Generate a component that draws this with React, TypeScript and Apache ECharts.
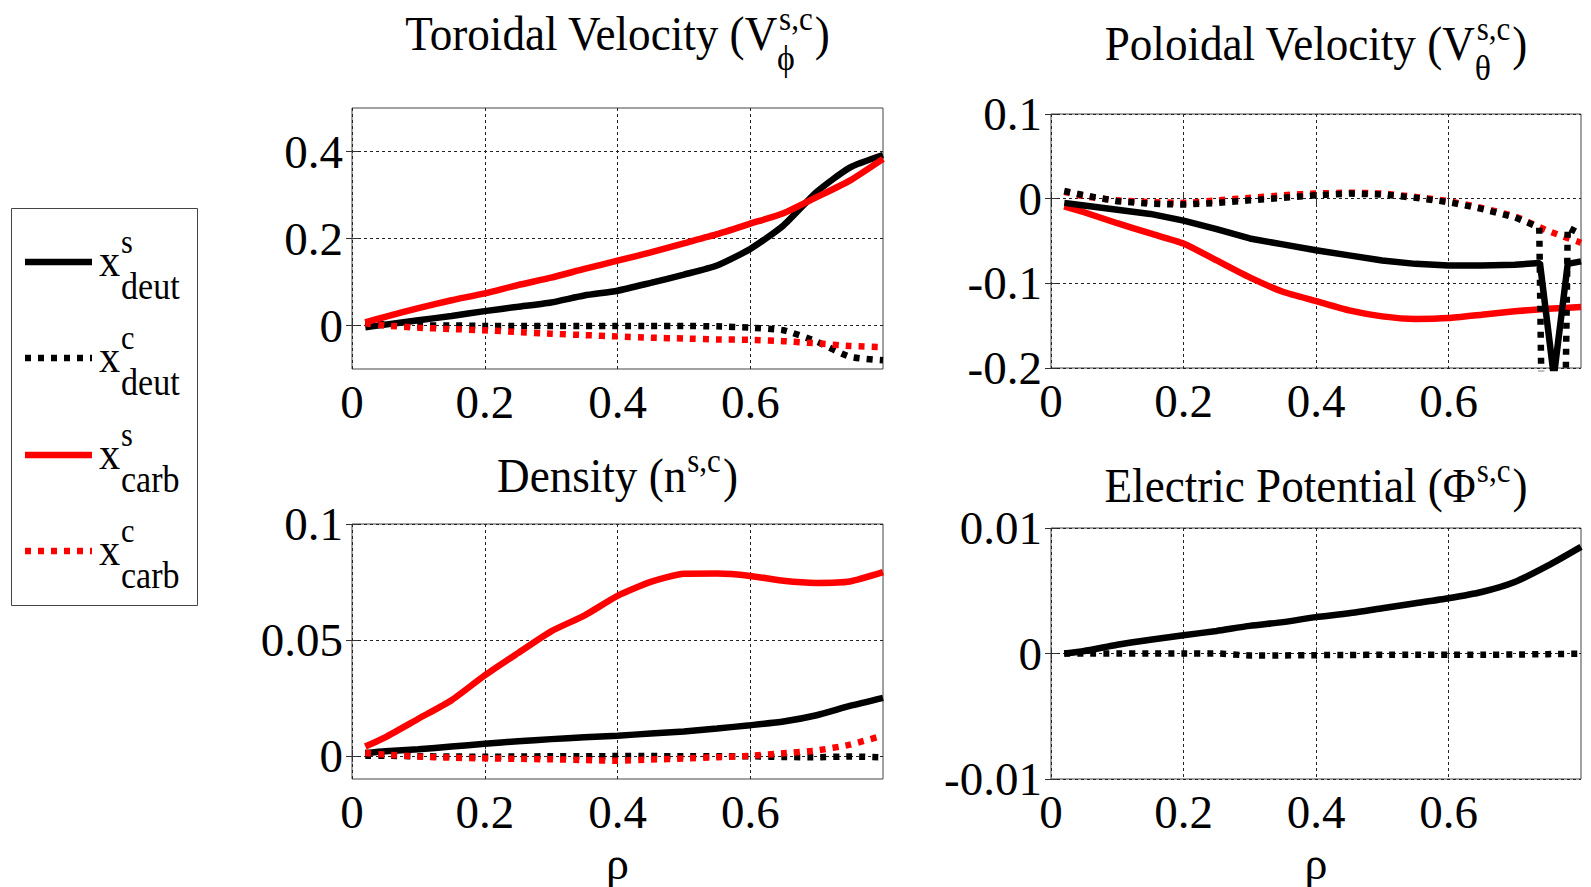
import React, { useEffect, useRef } from 'react';
import * as echarts from 'echarts';

const FONT = '"Liberation Serif", "Times New Roman", serif';

// Normalised radius samples shared by most profiles
const rho = [0.02, 0.05, 0.1, 0.15, 0.2, 0.25, 0.3, 0.35, 0.4, 0.45, 0.5, 0.55, 0.6, 0.65, 0.7, 0.75, 0.8];

// Toroidal velocity
const torDeutS = [-0.004, 0.002, 0.012, 0.022, 0.033, 0.043, 0.053, 0.069, 0.08, 0.098, 0.117, 0.138, 0.176, 0.23, 0.307, 0.363, 0.392];
const torDeutC = [0.006, 0.002, 0.0, 0.0, -0.001, -0.001, -0.001, -0.001, -0.001, -0.001, -0.001, -0.002, -0.005, -0.011, -0.037, -0.072, -0.08];
const torCarbS = [0.007, 0.02, 0.04, 0.058, 0.074, 0.093, 0.11, 0.13, 0.149, 0.168, 0.189, 0.21, 0.234, 0.258, 0.295, 0.333, 0.383];
const torCarbC = [0.005, 0.0, -0.005, -0.008, -0.011, -0.015, -0.019, -0.022, -0.025, -0.028, -0.03, -0.032, -0.033, -0.036, -0.041, -0.047, -0.05];

// Poloidal velocity (deuterium profiles carry a sharp dip near the edge)
const polRhoDeutS = [0.02, 0.05, 0.1, 0.15, 0.2, 0.25, 0.3, 0.35, 0.4, 0.45, 0.5, 0.55, 0.6, 0.65, 0.7, 0.738, 0.759, 0.78, 0.8];
const polDeutS = [-0.005, -0.008, -0.013, -0.018, -0.026, -0.036, -0.047, -0.054, -0.061, -0.067, -0.073, -0.077, -0.079, -0.079, -0.078, -0.076, -0.21, -0.077, -0.074];
const polRhoDeutC = [0.02, 0.05, 0.1, 0.15, 0.2, 0.25, 0.3, 0.35, 0.4, 0.45, 0.5, 0.55, 0.6, 0.65, 0.7, 0.737, 0.74, 0.777, 0.78, 0.8];
const polDeutC = [0.009, 0.004, -0.003, -0.006, -0.007, -0.005, -0.002, 0.001, 0.004, 0.006, 0.005, 0.001, -0.004, -0.012, -0.022, -0.034, -0.21, -0.21, -0.034, -0.042];
const polCarbS = [-0.009, -0.016, -0.029, -0.041, -0.053, -0.073, -0.093, -0.11, -0.121, -0.132, -0.139, -0.142, -0.141, -0.137, -0.133, -0.13, -0.128];
const polCarbC = [0.008, 0.003, -0.002, -0.004, -0.005, -0.002, 0.001, 0.004, 0.006, 0.007, 0.006, 0.002, -0.003, -0.011, -0.021, -0.038, -0.052];

// Density
const denDeutS = [0.0012, 0.002, 0.0028, 0.004, 0.0052, 0.0063, 0.0072, 0.008, 0.0087, 0.0096, 0.0105, 0.0118, 0.0132, 0.0148, 0.0175, 0.0215, 0.025];
const denDeutC = [0, 0, -0.0002, -0.0003, -0.0004, -0.0003, -0.0002, -0.0002, -0.0001, -0.0001, -0.0002, -0.0002, -0.0002, -0.0005, -0.0006, -0.0003, -0.0007];
const denCarbS = [0.004, 0.008, 0.016, 0.024, 0.0347, 0.0443, 0.0537, 0.0605, 0.069, 0.075, 0.0785, 0.0786, 0.0776, 0.0755, 0.0746, 0.0752, 0.0792];
const denCarbC = [0.0012, 0.0005, -0.0003, -0.0008, -0.0011, -0.0013, -0.0015, -0.0018, -0.0021, -0.0016, -0.0012, -0.0006, 0.0, 0.0011, 0.0023, 0.0048, 0.0088];

// Electric potential
const potDeutS = [0, 0.0002, 0.0007, 0.0011, 0.00145, 0.0018, 0.0022, 0.0025, 0.0029, 0.0032, 0.0036, 0.004, 0.0044, 0.0049, 0.0057, 0.007, 0.0085];
const potDeutC = [0, 0, 0, 0, 0, 0, -0.00015, -0.00015, -0.00013, -0.00012, -0.0001, -0.0001, -0.0001, -0.0001, -0.00008, -0.00005, -0.00002];

// Tick values
const xTicks = [0, 0.2, 0.4, 0.6];
const yTicksTor = [0, 0.2, 0.4];
const yTicksPol = [-0.2, -0.1, 0, 0.1];
const yTicksDen = [0, 0.05, 0.1];
const yTicksPot = [-0.01, 0, 0.01];

const yRanges: [number, number][] = [[-0.1, 0.5], [-0.2, 0.1], [-0.01, 0.1], [-0.01, 0.01]];
const yTickSets = [yTicksTor, yTicksPol, yTicksDen, yTicksPot];

const grids = [
  { left: 352, top: 108, width: 531, height: 261 },
  { left: 1051, top: 114, width: 530, height: 254 },
  { left: 352, top: 524, width: 531, height: 258 },
  { left: 1051, top: 528, width: 530, height: 254 },
];

const pairs = (xs: number[], ys: number[]) => xs.map((x, i) => [x, ys[i]]);

const solid = (color: string) => ({ color, width: 6.5, type: 'solid' as const });
const dotted = (color: string) => ({ color, width: 6.5, type: [6, 7], cap: 'butt' as const });

type Line = { name: string; data: number[][]; style: any; smooth?: number | boolean };

const panels: Line[][] = [
  [
    { name: 'deut s', data: pairs(rho, torDeutS), style: solid('#000') },
    { name: 'deut c', data: pairs(rho, torDeutC), style: dotted('#000') },
    { name: 'carb s', data: pairs(rho, torCarbS), style: solid('#ff0000') },
    { name: 'carb c', data: pairs(rho, torCarbC), style: dotted('#ff0000') },
  ],
  [
    { name: 'carb s', data: pairs(rho, polCarbS), style: solid('#ff0000') },
    { name: 'carb c', data: pairs(rho, polCarbC), style: dotted('#ff0000') },
    { name: 'deut s', data: pairs(polRhoDeutS, polDeutS), style: solid('#000'), smooth: false },
    { name: 'deut c', data: pairs(polRhoDeutC, polDeutC), style: dotted('#000'), smooth: false },
  ],
  [
    { name: 'deut s', data: pairs(rho, denDeutS), style: solid('#000') },
    { name: 'deut c', data: pairs(rho, denDeutC), style: dotted('#000') },
    { name: 'carb s', data: pairs(rho, denCarbS), style: solid('#ff0000') },
    { name: 'carb c', data: pairs(rho, denCarbC), style: dotted('#ff0000') },
  ],
  [
    { name: 'deut s', data: pairs(rho, potDeutS), style: solid('#000') },
    { name: 'deut c', data: pairs(rho, potDeutC), style: dotted('#000') },
  ],
];

function textWidth(t: string, size: number) {
  const ctx = document.createElement('canvas').getContext('2d');
  if (!ctx) return t.length * size * 0.5;
  ctx.font = `${size}px "Liberation Serif"`;
  return ctx.measureText(t).width;
}

// Text placed by its alphabetic baseline (zrender centres the em box on y)
function txt(x: number, baseline: number, text: string, size: number, align = 'left', scaleX = 1) {
  return {
    type: 'text',
    x,
    y: baseline - 0.34 * size,
    scaleX,
    silent: true,
    style: { text, fontFamily: FONT, fontSize: size, fill: '#000', align, verticalAlign: 'middle' },
  };
}

const TITLE_SCALE = 0.94;

function titleParts(cx: number, base: number, main: string, sup: string, sub: string | null) {
  const mainSize = 48;
  const supSize = 33;
  const subSize = 36;
  const s = TITLE_SCALE;
  const wMain = textWidth(main, mainSize) * s;
  const wSup = textWidth(sup, supSize) * s;
  const wClose = textWidth(')', mainSize) * s;
  const supX = wMain + 1;
  const closeX = supX + wSup + 2;
  const x0 = cx - (closeX + wClose) / 2;
  const out: any[] = [
    txt(x0, base, main, mainSize, 'left', s),
    txt(x0 + supX, base - 20, sup, supSize, 'left', s),
    txt(x0 + closeX, base, ')', mainSize, 'left', s),
  ];
  if (sub) out.push(txt(x0 + wMain - 1, base + 20, sub, subSize, 'left', s));
  return out;
}

const legendEntries = [
  { sup: 's', sub: 'deut', style: solid('#000') },
  { sup: 'c', sub: 'deut', style: dotted('#000') },
  { sup: 's', sub: 'carb', style: solid('#ff0000') },
  { sup: 'c', sub: 'carb', style: dotted('#ff0000') },
];

function legendGraphics() {
  const items: any[] = [
    {
      type: 'rect',
      shape: { x: 11.5, y: 208.5, width: 186, height: 397 },
      style: { fill: '#fff', stroke: '#444', lineWidth: 1 },
      silent: true,
    },
  ];
  const rows = [262, 358, 455, 551];
  legendEntries.forEach((e, i) => {
    const L = rows[i];
    items.push({
      type: 'line',
      shape: { x1: 25, y1: L, x2: 92, y2: L },
      style: { stroke: e.style.color, lineWidth: e.style.width, lineDash: e.style.type === 'solid' ? null : e.style.type },
      silent: true,
    });
    items.push(txt(99, L + 15, 'x', 46, 'left', 0.92));
    items.push(txt(121, L - 9, e.sup, 33, 'left', 0.92));
    items.push(txt(121, L + 37, e.sub, 37, 'left', 0.92));
  });
  return items;
}

function buildOption() {
  const xAxis: any[] = [];
  const yAxis: any[] = [];
  const gridStyle = { color: '#222', type: [3, 3], width: 1 };
  const labelStyle = { fontFamily: FONT, fontSize: 47, color: '#000' };
  grids.forEach((_, i) => {
    const bottomRow = i >= 2;
    xAxis.push({
      type: 'value',
      gridIndex: i,
      min: 0,
      max: 0.8,
      position: 'bottom',
      axisLine: { show: false },
      axisTick: { show: true, inside: true, length: 6, customValues: xTicks, lineStyle: { color: '#333' } },
      axisLabel: { ...labelStyle, customValues: xTicks, margin: 9, formatter: (v: number) => String(v) },
      splitLine: { show: true, lineStyle: gridStyle },
      name: bottomRow ? 'ρ' : '',
      nameLocation: 'middle',
      nameGap: 61,
      nameTextStyle: { fontFamily: FONT, fontSize: 46, color: '#000' },
    });
    yAxis.push({
      type: 'value',
      gridIndex: i,
      min: yRanges[i][0],
      max: yRanges[i][1],
      position: 'left',
      axisLine: { show: false },
      axisTick: { show: true, inside: true, length: 6, customValues: yTickSets[i], lineStyle: { color: '#333' } },
      axisLabel: { ...labelStyle, customValues: yTickSets[i], margin: 9, formatter: (v: number) => String(v) },
      splitLine: { show: true, lineStyle: gridStyle },
    });
  });
  // mirrored tick marks on the top and right edges of each box
  grids.forEach((_, i) => {
    xAxis.push({
      type: 'value', gridIndex: i, min: 0, max: 0.8, position: 'top',
      axisLine: { show: false }, axisLabel: { show: false }, splitLine: { show: false },
      axisTick: { show: true, inside: true, length: 6, customValues: xTicks, lineStyle: { color: '#333' } },
    });
    yAxis.push({
      type: 'value', gridIndex: i, min: yRanges[i][0], max: yRanges[i][1], position: 'right',
      axisLine: { show: false }, axisLabel: { show: false }, splitLine: { show: false },
      axisTick: { show: true, inside: true, length: 6, customValues: yTickSets[i], lineStyle: { color: '#333' } },
    });
  });

  const series: any[] = [];
  panels.forEach((lines, i) => {
    lines.forEach((l) => {
      series.push({
        type: 'line',
        name: l.name,
        xAxisIndex: i,
        yAxisIndex: i,
        data: l.data,
        showSymbol: false,
        symbol: 'none',
        smooth: l.smooth === undefined ? 0.2 : l.smooth,
        clip: true,
        lineStyle: l.style,
        emphasis: { disabled: true },
      });
    });
  });

  const cx = (g: { left: number; width: number }) => g.left + g.width / 2;
  const graphic = [
    ...titleParts(cx(grids[0]), 50, 'Toroidal Velocity (V', 's,c', 'ϕ'),
    ...titleParts(cx(grids[1]), 60, 'Poloidal Velocity (V', 's,c', 'θ'),
    ...titleParts(cx(grids[2]), 492, 'Density (n', 's,c', null),
    ...titleParts(cx(grids[3]), 502, 'Electric Potential (Φ', 's,c', null),
    ...legendGraphics(),
  ];

  return {
    animation: false,
    backgroundColor: '#fff',
    grid: grids.map((g) => ({ ...g, show: true, borderColor: '#444', borderWidth: 1, backgroundColor: 'transparent' })),
    xAxis,
    yAxis,
    series,
    graphic,
  };
}

export default function App() {
  const ref = useRef<HTMLDivElement>(null);
  useEffect(() => {
    if (!ref.current) return;
    const chart = echarts.init(ref.current, null, { renderer: 'svg' });
    chart.setOption(buildOption() as any);
    return () => chart.dispose();
  }, []);
  return <div ref={ref} style={{ position: 'fixed', left: 0, top: 0, width: 1591, height: 887, background: '#fff' }} />;
}
